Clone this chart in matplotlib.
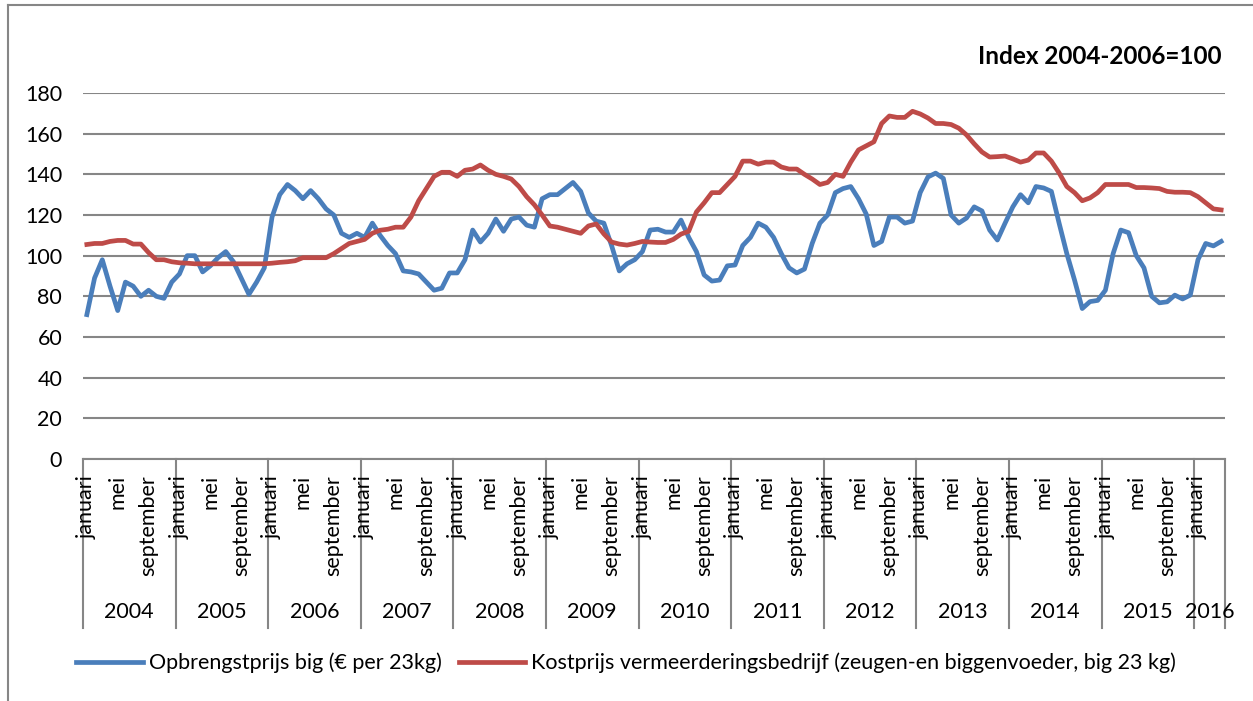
import matplotlib
matplotlib.use("Agg")
import matplotlib.pyplot as plt
import matplotlib.transforms as mtransforms
from matplotlib.lines import Line2D

plt.rcParams['font.family'] = ['Lato', 'DejaVu Sans']

# maanden jan 2004 .. apr 2016
years = [str(y) for y in range(2004, 2017)]
months_per_year = [12] * 12 + [4]
month_ticks = {0: "januari", 4: "mei", 8: "september"}

opbrengst = [71, 89, 98, 85, 73, 87, 85, 80, 83, 80, 79, 87,
             91, 100, 100, 92, 95, 99, 102, 97, 89, 81, 87, 94,
             119, 130, 135, 132, 128, 132, 128, 123, 120, 111, 109, 111,
             109, 116, 110, 105, 101, 92.5, 92, 91, 87, 83, 84, 91.5,
             91.5, 98, 112.6, 106.7, 111, 118, 112, 118, 119, 115, 114, 128,
             130, 130, 133, 136, 131.6, 121, 117, 116, 105, 92.5, 96, 98,
             102, 112.6, 113, 111.6, 111.6, 117.5, 109, 102, 90.5, 87.5, 88, 95,
             95.4, 105, 109, 116, 114, 109, 101, 94, 91.5, 93.4, 106, 116,
             120, 131, 133, 134, 128, 120.5, 105, 107, 119, 119, 116, 117,
             131, 138.7, 140.6, 138, 120, 116, 118.5, 124, 122, 112.6, 107.7, 116,
             124, 130, 126, 134, 133.3, 131.6, 116, 101, 88, 74, 77.4, 78,
             83, 101, 112.6, 111.3, 100, 94, 80, 76.8, 77.3, 80.6, 78.7, 80.6,
             98, 106, 104.8, 107]

kostprijs = [105.5, 106, 106, 107, 107.5, 107.5, 105.7, 105.7, 101.5, 98, 98, 97,
             96.5, 96.3, 96, 96, 96, 96, 96, 96, 96, 96, 96, 96,
             96.3, 96.7, 97, 97.5, 99, 99, 99, 99, 101, 103.5, 106, 107,
             108, 111, 112.5, 113, 114, 114, 119, 127, 133, 139, 141, 141,
             139, 142, 142.6, 144.6, 142, 140, 139, 137.7, 134, 129, 125, 120,
             114.6, 114, 113, 112, 111, 114.6, 115.6, 110.7, 106.7, 105.7, 105.2, 106,
             107, 106.7, 106.5, 106.5, 108, 110.6, 112, 121.5, 126, 131, 131, 135,
             139, 146.5, 146.5, 145, 146, 146, 143.6, 142.6, 142.6, 140, 137.7, 135,
             136, 140, 139, 146, 152, 154, 156, 165, 168.7, 168, 168, 171,
             169.7, 167.7, 165, 165, 164.5, 162.7, 159.4, 155, 151, 148.5, 148.7, 149,
             147.6, 146, 147, 150.5, 150.5, 146.5, 140.7, 134, 131, 127, 128.4, 131,
             135, 135, 135, 135, 133.5, 133.5, 133.3, 133, 131.6, 131.2, 131.2, 131,
             129, 126, 123, 122.5]

label_opbrengst = "Opbrengstprijs big (€ per 23kg)"
label_kostprijs = "Kostprijs vermeerderingsbedrijf (zeugen-en biggenvoeder, big 23 kg)"

W, H = 1253, 701
fig = plt.figure(figsize=(W / 100, H / 100), dpi=100)
ax = fig.add_axes([83 / W, 1 - 459 / H, (1225 - 83) / W, (459 - 93) / H])

grey = "#868686"
blue = "#4A7EBB"
red = "#BE4B48"
fs = 15.5

n = len(opbrengst)
xs = [i + 0.5 for i in range(n)]
ax.plot(xs, opbrengst, color=blue, lw=3.4, solid_joinstyle='round', zorder=3)
ax.plot(xs, kostprijs, color=red, lw=3.4, solid_joinstyle='round', zorder=3)

ax.set_xlim(0, sum(months_per_year))
ax.set_ylim(0, 180)
ax.set_yticks(range(0, 181, 20))
ax.yaxis.grid(True, color=grey, lw=1.5)
ax.set_axisbelow(True)
for s in ['left', 'right', 'top']:
    ax.spines[s].set_visible(False)
ax.spines['bottom'].set_color(grey)
ax.spines['bottom'].set_linewidth(1.5)
ax.tick_params(axis='y', length=0, pad=15, labelsize=fs)
ax.tick_params(axis='x', length=0)
ax.set_xticks([])

# categorie-as met twee niveaus
trans = mtransforms.blended_transform_factory(ax.transData, ax.transAxes)
ax_h = 459 - 93
y_month = -(475 - 459) / ax_h
y_year = -(612 - 459) / ax_h
y_end = -(628 - 459) / ax_h
start = 0
for year, m in zip(years, months_per_year):
    ax.plot([start, start], [0, y_end], transform=trans, color=grey, lw=1.5, clip_on=False)
    for k, lab in month_ticks.items():
        if k < m:
            ax.text(start + k + 0.5, y_month, lab, transform=trans, rotation=90,
                    ha='center', va='top', fontsize=fs)
    ax.text(start + m / 2, y_year, year, transform=trans, ha='center', va='center',
            fontsize=fs)
    start += m
ax.plot([start, start], [0, y_end], transform=trans, color=grey, lw=1.5, clip_on=False)

fig.text(1222 / W, 1 - 56 / H, "Index 2004-2006=100", ha='right', va='center',
         fontsize=17.5, fontweight='bold')

handles = [Line2D([], [], color=blue, lw=3.4), Line2D([], [], color=red, lw=3.4)]
fig.legend(handles, [label_opbrengst, label_kostprijs], loc='center',
           bbox_to_anchor=(626 / W, 1 - 663 / H), ncol=2, frameon=False,
           fontsize=fs, handlelength=3.1, handletextpad=0.25, columnspacing=0.8)

# kader
fig.add_artist(Line2D([8 / W, 8 / W], [0, 1 - 5 / H], color=grey, lw=1.5))
fig.add_artist(Line2D([8 / W, 1], [1 - 5 / H, 1 - 5 / H], color=grey, lw=1.5))

fig.savefig("out.png", dpi=100)
